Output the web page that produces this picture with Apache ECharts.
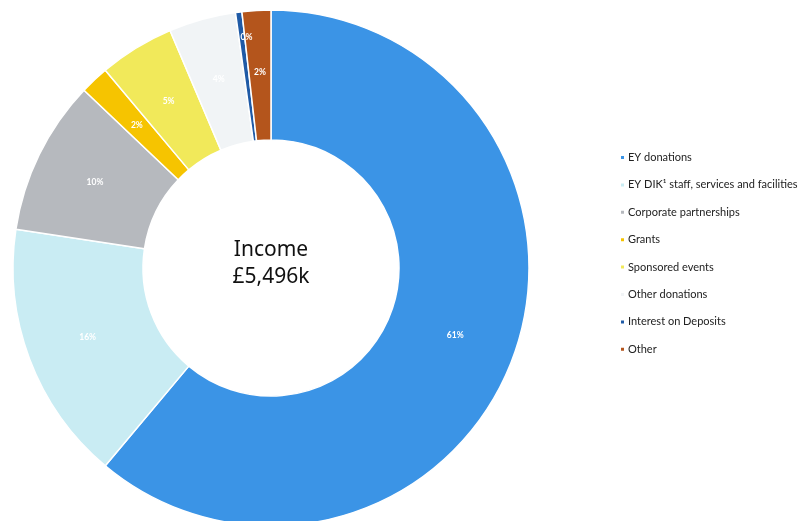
<!DOCTYPE html>
<html>
<head>
<meta charset="utf-8">
<script src="https://cdn.jsdelivr.net/npm/echarts@6/dist/echarts.min.js"></script>
<style>html,body{margin:0;padding:0;background:#fff;}#c{width:800px;height:521px;}</style>
</head>
<body>
<div id="c"></div>
<script>
const categories = ["EY donations", "EY DIK\u00b9 staff, services and facilities", "Corporate partnerships", "Grants", "Sponsored events", "Other donations", "Interest on Deposits", "Other"];
const shares = [61.1, 16.3, 9.7, 1.8, 4.7, 4.2, 0.4, 1.8];
const colors = ["#3b94e6", "#c9ecf3", "#b6b9be", "#f6c400", "#f1e95a", "#f1f4f6", "#1f5aa6", "#b4551c"];
const centerLines = ["Income", "\u00a35,496k"];

const chart = echarts.init(document.getElementById('c'), null, {renderer: 'canvas'});
const data = categories.map((n, i) => ({name: n, value: shares[i], itemStyle: {color: colors[i]}}));
chart.setOption({
  animation: false,
  color: colors,
  graphic: [{
    type: 'text', x: 271, y: 263.5,
    style: {
      text: centerLines.join('\n'), fill: '#111', font: '21px "Noto Sans"',
      lineHeight: 27, align: 'center', verticalAlign: 'middle'
    }
  }],
  legend: {
    orient: 'vertical', left: 614, top: 146.5,
    icon: 'rect', itemWidth: 5, itemHeight: 5, itemGap: 15.4,
    textStyle: {fontFamily: 'Lato', fontSize: 11, color: '#222', lineHeight: 12, padding: [0, 0, 0, -2]},
    data: categories
  },
  series: [{
    type: 'pie',
    center: [271, 268],
    radius: [128, 258],
    startAngle: 90,
    clockwise: true,
    avoidLabelOverlap: false,
    itemStyle: {borderColor: '#fff', borderWidth: 1.5},
    label: {
      show: true, position: 'inside', color: '#fff', fontSize: 8.5, fontWeight: 'bold',
      fontFamily: 'Lato', lineHeight: 9,
      formatter: p => Math.round(p.percent) + '%' + (p.name === 'Interest on Deposits' ? '\n\n\n\n\n\n\n\n' : '')
    },
    labelLine: {show: false},
    emphasis: {disabled: true},
    data: data
  }]
});
</script>
</body>
</html>
